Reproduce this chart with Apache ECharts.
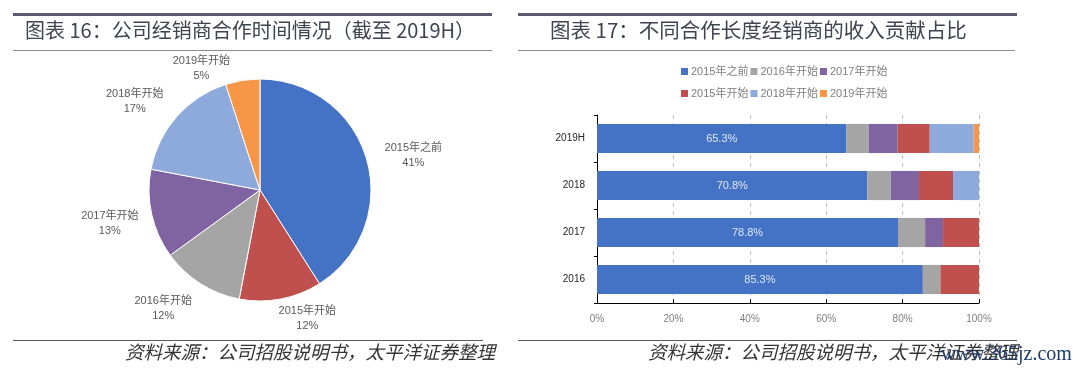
<!DOCTYPE html>
<html>
<head>
<meta charset="utf-8">
<script src="https://cdn.jsdelivr.net/npm/echarts@6/dist/echarts.min.js"></script>
<style>
html,body{margin:0;padding:0;background:#fff;}
#main{width:1080px;height:374px;}
</style>
</head>
<body>
<div id="main"></div>
<script>
// ---- Pie data (chart 16) ----
var pieNames = ['2015年之前', '2015年开始', '2016年开始', '2017年开始', '2018年开始', '2019年开始'];
var pieValues = [41, 12, 12, 13, 17, 5];
var pieColors = ['#4472C4', '#C0504D', '#A5A5A5', '#8064A2', '#8EA9DB', '#F79646'];
// small label nudges (style only)
var pieLabelNudge = [[3, -1], [-11, 12], [3, 18], [2, 8], [0, -10], [-4, -4]];

// ---- Stacked bar data (chart 17) ----
var barCategories = ['2016', '2017', '2018', '2019H'];
var s2015Before = [85.3, 78.8, 70.8, 65.3];
var s2016Start = [4.6, 7.1, 6.1, 5.8];
var s2017Start = [0, 4.7, 7.4, 7.6];
var s2015Start = [10.1, 9.4, 8.9, 8.4];
var s2018Start = [0, 0, 6.8, 11.5];
var s2019Start = [0, 0, 0, 1.4];
var xTicks = [0, 20, 40, 60, 80, 100];

var FONT = "'Liberation Sans', 'Noto Sans CJK SC', sans-serif";
var CJK = "'Noto Sans CJK SC', sans-serif";

var chart = echarts.init(document.getElementById('main'), null, {renderer: 'canvas'});

var barSeriesDefs = [
  {name: '2015年之前', data: s2015Before, color: '#4472C4', label: true},
  {name: '2016年开始', data: s2016Start, color: '#A5A5A5'},
  {name: '2017年开始', data: s2017Start, color: '#8064A2'},
  {name: '2015年开始', data: s2015Start, color: '#C0504D'},
  {name: '2018年开始', data: s2018Start, color: '#8EA9DB'},
  {name: '2019年开始', data: s2019Start, color: '#F79646'}
];

var series = [{
  type: 'pie',
  center: [260, 190],
  radius: 111,
  startAngle: 90,
  clockwise: true,
  avoidLabelOverlap: false,
  itemStyle: {borderColor: '#fff', borderWidth: 1},
  label: {
    show: true,
    position: 'outside',
    formatter: '{a|{b}}\n{a|{d}%}',
    rich: {a: {width: 62, align: 'center', fontSize: 11, color: '#595959', fontFamily: FONT, lineHeight: 15}}
  },
  labelLine: {show: false, length: 8, length2: 0},
  labelLayout: function (p) {
    var n = pieLabelNudge[p.dataIndex] || [0, 0];
    return {dx: n[0], dy: n[1]};
  },
  emphasis: {disabled: true},
  data: pieNames.map(function (n, i) {
    return {name: n, value: pieValues[i], itemStyle: {color: pieColors[i]}};
  })
}];

barSeriesDefs.forEach(function (d) {
  series.push({
    type: 'bar',
    name: d.name,
    stack: 'total',
    xAxisIndex: 0,
    yAxisIndex: 0,
    barCategoryGap: '38%',
    data: d.data,
    itemStyle: {color: d.color},
    emphasis: {disabled: true},
    label: d.label ? {
      show: true, position: 'inside', formatter: '{c}%',
      color: '#DCE6F5', fontSize: 11, fontFamily: FONT
    } : {show: false}
  });
});

function legendCfg(names, top) {
  return {
    left: 676, top: top,
    data: names,
    icon: 'rect',
    itemWidth: 7, itemHeight: 7, itemGap: 2,
    textStyle: {color: '#7F7F7F', fontSize: 11, fontFamily: FONT, padding: [0, 0, 0, -2]},
    selectedMode: false
  };
}

function lineEl(x1, y1, x2, y2, w, c) {
  return {type: 'line', shape: {x1: x1, y1: y1, x2: x2, y2: y2}, style: {stroke: c, lineWidth: w}, silent: true};
}
function textEl(x, y, t, size, color, font, extra) {
  var st = {text: t, fill: color, font: (extra || '') + ' ' + size + 'px ' + font, textVerticalAlign: 'middle'};
  return {type: 'text', left: x, top: y - size / 2 - 2, style: st, silent: true};
}

var option = {
  backgroundColor: '#fff',
  animation: false,
  legend: [
    legendCfg(['2015年之前', '2016年开始', '2017年开始'], 61),
    legendCfg(['2015年开始', '2018年开始', '2019年开始'], 83)
  ],
  grid: {left: 597, right: 101, top: 115, bottom: 71, containLabel: false},
  xAxis: {
    type: 'value', min: xTicks[0], max: xTicks[xTicks.length - 1], interval: 20,
    axisLine: {show: true, lineStyle: {color: '#000', width: 1}},
    axisTick: {show: true, inside: true, length: 4, lineStyle: {color: '#000'}},
    axisLabel: {formatter: '{value}%', color: '#7F7F7F', fontSize: 10, fontFamily: FONT, margin: 11},
    splitLine: {show: true, lineStyle: {color: '#BFBFBF', type: [4, 4], width: 1}}
  },
  yAxis: {
    type: 'category', data: barCategories,
    axisLine: {show: true, lineStyle: {color: '#000', width: 1}},
    axisTick: {show: true, length: 3, lineStyle: {color: '#000'}},
    axisLabel: {color: '#262626', fontSize: 10, fontFamily: FONT, margin: 12}
  },
  series: series,
  graphic: [
    lineEl(13, 14.5, 492, 14.5, 3, '#595A6B'),
    lineEl(13, 50.5, 492, 50.5, 1, '#8C8C8C'),
    lineEl(13, 340.5, 483, 340.5, 1, '#595959'),
    lineEl(518, 14.5, 1017, 14.5, 3, '#595A6B'),
    lineEl(518, 50.5, 1015, 50.5, 1, '#8C8C8C'),
    lineEl(518, 340.5, 1017, 340.5, 1, '#595959'),
    textEl(25, 32, '图表 16：公司经销商合作时间情况（截至 2019H）', 20, '#3E4550', CJK),
    textEl(550, 32, '图表 17：不同合作长度经销商的收入贡献占比', 20.5, '#3E4550', CJK),
    textEl(125, 354, '资料来源：公司招股说明书，太平洋证券整理', 18.5, '#333333', CJK, 'italic'),
    textEl(648, 354, '资料来源：公司招股说明书，太平洋证券整理', 18.5, '#333333', CJK, 'italic'),
    textEl(941, 357, 'www.365jz.com', 20, '#1F3A6B', "'Liberation Serif', 'DejaVu Serif', serif")
  ]
};
chart.setOption(option);
</script>
</body>
</html>
